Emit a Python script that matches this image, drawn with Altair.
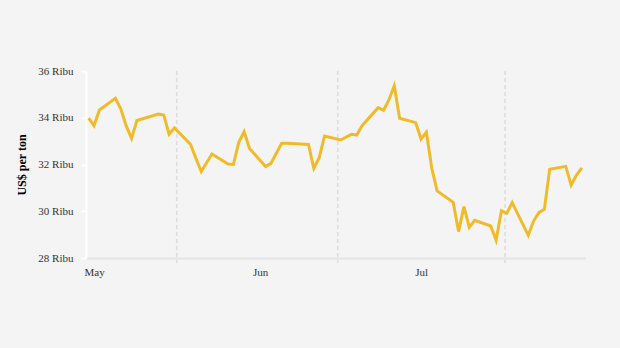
import altair as alt
import pandas as pd

dates = [
    "2025-04-30", "2025-05-01", "2025-05-02", "2025-05-05", "2025-05-06", "2025-05-07",
    "2025-05-08", "2025-05-09", "2025-05-13", "2025-05-14", "2025-05-15", "2025-05-16",
    "2025-05-19", "2025-05-20", "2025-05-21", "2025-05-23", "2025-05-26", "2025-05-27",
    "2025-05-28", "2025-05-29", "2025-05-30", "2025-06-02", "2025-06-03", "2025-06-04",
    "2025-06-05", "2025-06-06", "2025-06-10", "2025-06-11", "2025-06-12", "2025-06-13",
    "2025-06-16", "2025-06-18", "2025-06-19", "2025-06-20", "2025-06-23", "2025-06-24",
    "2025-06-25", "2025-06-26", "2025-06-27", "2025-06-30", "2025-07-01", "2025-07-02",
    "2025-07-03", "2025-07-04", "2025-07-07", "2025-07-08", "2025-07-09", "2025-07-10",
    "2025-07-11", "2025-07-14", "2025-07-15", "2025-07-16", "2025-07-17", "2025-07-18",
    "2025-07-21", "2025-07-22", "2025-07-23", "2025-07-24", "2025-07-25", "2025-07-28",
    "2025-07-29", "2025-07-30", "2025-07-31",
]
prices = [
    33.98, 33.66, 34.33, 34.83, 34.37, 33.65,
    33.12, 33.88, 34.16, 34.12, 33.30, 33.56,
    32.86, 32.27, 31.70, 32.45, 32.02, 32.00,
    32.95, 33.40, 32.69, 31.91, 32.05, 32.48,
    32.91, 32.91, 32.86, 31.84, 32.29, 33.22,
    33.05, 33.29, 33.26, 33.66, 34.43, 34.32,
    34.76, 35.37, 33.98, 33.79, 33.09, 33.38,
    31.84, 30.87, 30.38, 29.13, 30.20, 29.31,
    29.61, 29.37, 28.76, 30.02, 29.91, 30.37,
    28.97, 29.58, 29.95, 30.08, 31.80, 31.92,
    31.12, 31.55, 31.86,
]
grid_dates = ["2025-05-16T10:00:00Z", "2025-06-15T11:00:00Z", "2025-07-16T16:00:00Z"]
month_names = ["Jan", "Feb", "Mar", "Apr", "May", "Jun", "Jul", "Aug", "Sep", "Oct", "Nov", "Dec"]
y_ticks = [28, 30, 32, 34, 36]

df = pd.DataFrame({"date": dates, "price": prices})
grid_df = pd.DataFrame({"date": grid_dates})

FONT = "Liberation Serif"

xscale = alt.Scale(
    type="utc",
    domain=[
        alt.DateTime(year=2025, month=4, date=29, hours=12, utc=True),
        alt.DateTime(year=2025, month=7, date=31, hours=14, utc=True),
    ],
)

grid = alt.Chart(grid_df).mark_rule(
    color="#dcdcdc", strokeWidth=1.5, strokeDash=[4, 3]
).encode(
    x=alt.X("date:T", scale=xscale),
    y=alt.value(0),
    y2=alt.value(192),
)

month_expr = "[" + ",".join("'%s'" % m for m in month_names) + "][utcmonth(datum.value)]"

line = alt.Chart(df).mark_line(
    color="#efbb2a", strokeWidth=3, strokeJoin="miter", strokeMiterLimit=4
).encode(
    x=alt.X(
        "date:T",
        scale=xscale,
        axis=alt.Axis(
            values=[alt.DateTime(year=2025, month=m, date=1, utc=True) for m in (5, 6, 7)],
            labelExpr=month_expr,
            title=None,
            grid=False,
            ticks=False,
            domainColor="#e4e4e4",
            domainWidth=2,
            labelFont=FONT,
            labelFontSize=11,
            labelColor="#333333",
            labelPadding=8,
        ),
    ),
    y=alt.Y(
        "price:Q",
        scale=alt.Scale(domain=[28, 36], nice=False, zero=False),
        axis=alt.Axis(
            values=y_ticks,
            labelExpr="datum.value + ' Ribu'",
            title="US$ per ton",
            titleFont=FONT,
            titleFontSize=12,
            titleFontWeight="bold",
            titleColor="#000000",
            titlePadding=9,
            grid=False,
            domainColor="#ffffff",
            domainWidth=2,
            tickColor="#ffffff",
            tickWidth=2,
            tickSize=5,
            labelFont=FONT,
            labelFontSize=11,
            labelColor="#333333",
            labelPadding=8,
        ),
    ),
)

chart = alt.layer(grid, line).properties(
    width=499,
    height=187,
    background="#f4f4f4",
    autosize=alt.AutoSizeParams(type="none"),
    padding={"left": 86, "top": 71, "right": 35, "bottom": 90},
).configure_view(stroke=None)

chart.save("out.html", embed_options={"renderer": "svg", "actions": False})
